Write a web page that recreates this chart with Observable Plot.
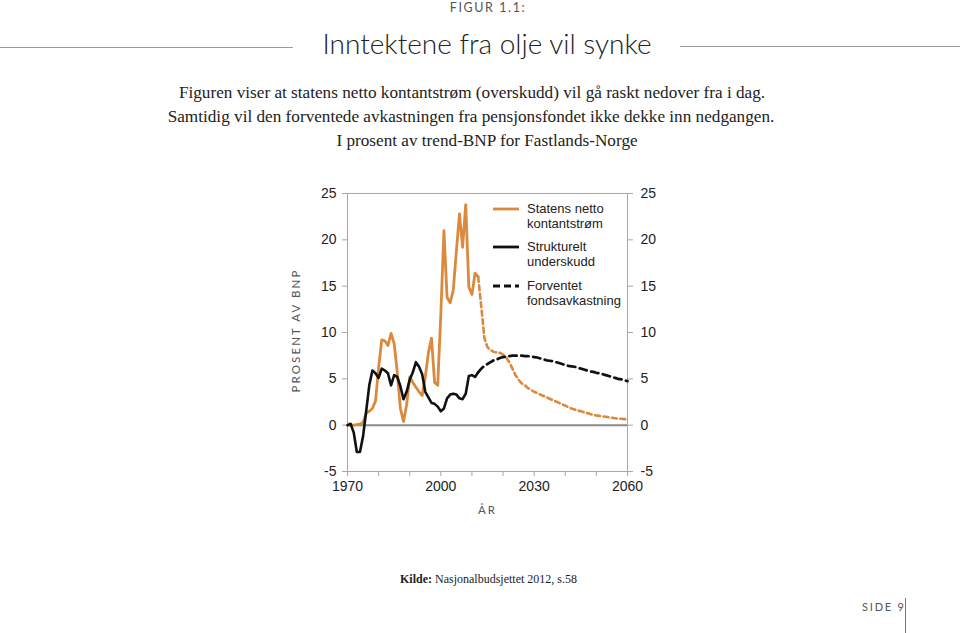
<!DOCTYPE html>
<html>
<head>
<meta charset="utf-8">
<script src="https://cdn.jsdelivr.net/npm/d3@7"></script>
<script src="https://cdn.jsdelivr.net/npm/@observablehq/plot@0.6"></script>
<style>
  html, body { margin: 0; padding: 0; background: #fff; }
  #page { position: relative; width: 960px; height: 633px; overflow: hidden; background: #fff; }
  .abs { position: absolute; white-space: nowrap; }
  .c { transform: translate(-50%, -50%); }
  #figur { font-family: Lato, sans-serif; font-size: 12.5px; letter-spacing: 1.6px; color: #555; }
  #title { font-family: Lato, sans-serif; font-weight: 300; font-size: 28px; color: #222; }
  .sub { font-family: "Liberation Serif", serif; font-size: 17.2px; color: #222; }
  .hline { position: absolute; height: 0; border-top: 1.5px solid #9a9a9a; }
  #kilde { font-family: "Liberation Serif", serif; font-size: 12px; color: #222; }
  #side { font-family: Lato, sans-serif; font-size: 11px; letter-spacing: 1.8px; color: #555; }
  #chart { position: absolute; left: 270px; top: 180px; }
  .leg { position: absolute; font-family: "Liberation Sans", Arial, sans-serif; font-size: 13px; line-height: 15px; color: #222; white-space: nowrap; }
</style>
</head>
<body>
<div id="page">
  <div class="abs c" id="figur" style="left:488px; top:7px;">FIGUR 1.1:</div>
  <div class="hline" style="left:0; width:293px; top:47px;"></div>
  <div class="abs c" id="title" style="left:487px; top:43px;">Inntektene fra olje vil synke</div>
  <div class="hline" style="left:680px; width:280px; top:46px;"></div>
  <div class="abs c sub" style="left:472px; top:93px;">Figuren viser at statens netto kontantstrøm (overskudd) vil gå raskt nedover fra i dag.</div>
  <div class="abs c sub" style="left:471px; top:117px;">Samtidig vil den forventede avkastningen fra pensjonsfondet ikke dekke inn nedgangen.</div>
  <div class="abs c sub" style="left:487px; top:141px;">I prosent av trend-BNP for Fastlands-Norge</div>
  <div id="chart"></div>
  <div id="legend"></div>
  <div class="abs" id="kilde" style="left:400px; top:572px;"><b>Kilde:</b> Nasjonalbudsjettet 2012, s.58</div>
  <div class="abs" id="side" style="left:862px; top:600px;">SIDE 9</div>
  <div style="position:absolute; left:905px; top:598px; width:0; height:35px; border-left:1.2px solid #777;"></div>
</div>
<script>
// ---- data ----
const histYears = d3.range(1970, 2013);   // 1970–2012
const projYears = d3.range(2012, 2061);   // 2012–2060

// Statens netto kontantstrøm (actual), % of trend-GDP mainland Norway
const nettoHist = [
  0, 0, 0, 0.05, 0.1, 0.3, 1.3, 1.5, 1.8, 2.6,
  6.2, 9.2, 9.1, 8.6, 9.9, 8.8, 5.7, 1.8, 0.4, 2.2,
  5.2, 4.6, 4.1, 3.6, 3.2, 5.2, 7.8, 9.4, 4.6, 4.3,
  12.0, 21.0, 13.8, 13.2, 14.6, 18.8, 22.8, 19.2, 23.8, 14.9,
  14.1, 16.4, 16.0
];
// Statens netto kontantstrøm (projection)
const nettoProj = [
  16.0, 12.8, 9.4, 8.4, 8.1, 7.9, 7.85, 7.8, 7.6, 7.3,
  6.8, 6.1, 5.4, 4.9, 4.5, 4.3, 4.0, 3.8, 3.6, 3.45,
  3.3, 3.15, 3.0, 2.85, 2.7, 2.55, 2.4, 2.25, 2.1, 1.95,
  1.8, 1.7, 1.6, 1.5, 1.4, 1.3, 1.2, 1.1, 1.05, 1.0,
  0.95, 0.9, 0.85, 0.8, 0.75, 0.7, 0.7, 0.65, 0.65
];
// Strukturelt underskudd
const strukturelt = [
  0.0, 0.15, -0.8, -2.9, -2.9, -1.2, 1.5, 4.3, 5.9, 5.6,
  5.1, 6.1, 5.9, 5.6, 4.3, 5.4, 5.2, 4.2, 2.8, 3.6,
  4.9, 5.7, 6.8, 6.3, 5.5, 3.6, 3.0, 2.4, 2.3, 2.0,
  1.5, 1.8, 2.9, 3.3, 3.4, 3.3, 2.9, 2.8, 3.4, 5.3,
  5.4, 5.2, 5.7
];
// Forventet fondsavkastning
const fondsavk = [
  5.7, 6.1, 6.4, 6.6, 6.8, 7.0, 7.1, 7.25, 7.35, 7.4,
  7.45, 7.5, 7.5, 7.5, 7.5, 7.45, 7.45, 7.4, 7.35, 7.3,
  7.2, 7.1, 7.0, 6.95, 6.9, 6.8, 6.7, 6.6, 6.5, 6.4,
  6.35, 6.3, 6.2, 6.1, 6.0, 5.9, 5.8, 5.75, 5.65, 5.6,
  5.5, 5.4, 5.3, 5.2, 5.1, 5.0, 4.95, 4.85, 4.75
];

const xTicks = [1970, 1980, 1990, 2000, 2010, 2020, 2030, 2040, 2050, 2060];
const xLabels = [1970, 2000, 2030, 2060];
const yTicks = [-5, 0, 5, 10, 15, 20, 25];

const legendItems = [
  {lines: ["Statens netto", "kontantstrøm"], color: "orange", dash: null},
  {lines: ["Strukturelt", "underskudd"], color: "black", dash: null},
  {lines: ["Forventet", "fondsavkastning"], color: "black", dash: "7,4"}
];

// ---- styling ----
const ORANGE = "#db8a3d";
const BLACK = "#111111";
const colorOf = {orange: ORANGE, black: BLACK};

const toRows = (years, vals) => years.map((year, i) => ({year, value: vals[i]}));

const chart = Plot.plot({
  width: 420,
  height: 350,
  marginLeft: 77,
  marginRight: 63,
  marginTop: 13,
  marginBottom: 59,
  x: {domain: [1970, 2060]},
  y: {domain: [-5, 25]},
  style: {fontFamily: "'Liberation Sans', Arial, sans-serif", fontSize: "14px", color: "#222", background: "transparent", overflow: "visible"},
  marks: [
    Plot.frame({stroke: "#a8a8a8", strokeWidth: 1}),
    Plot.ruleY([0], {stroke: "#8a8a8a", strokeWidth: 2}),
    Plot.axisY(yTicks, {anchor: "left", tickSize: 5, tickPadding: 6, stroke: "#a8a8a8", fill: "#222", label: null, tickFormat: d => String(d)}),
    Plot.axisY(yTicks, {anchor: "right", tickSize: 5, tickPadding: 8, stroke: "#a8a8a8", fill: "#222", label: null, tickFormat: d => String(d)}),
    Plot.axisX(xTicks, {anchor: "bottom", tickSize: 5, tickPadding: 5, stroke: "#a8a8a8", fill: "#222", label: null,
      tickFormat: d => xLabels.includes(d) ? String(d) : ""}),
    Plot.line(toRows(projYears, nettoProj), {x: "year", y: "value", stroke: ORANGE, strokeWidth: 2.6, strokeDasharray: "5,3.5"}),
    Plot.line(toRows(projYears, fondsavk), {x: "year", y: "value", stroke: BLACK, strokeWidth: 2.7, strokeDasharray: "7.5,4.5"}),
    Plot.line(toRows(histYears, nettoHist), {x: "year", y: "value", stroke: ORANGE, strokeWidth: 2.8, strokeLinejoin: "round"}),
    Plot.line(toRows(histYears, strukturelt), {x: "year", y: "value", stroke: BLACK, strokeWidth: 2.6, strokeLinejoin: "round"}),
    Plot.text(["PROSENT AV BNP"], {frameAnchor: "left", dx: -51, dy: -2, rotate: -90, textAnchor: "middle", fontFamily: "Lato, sans-serif", fontSize: 11.5, fill: "#555"}),
    Plot.text(["ÅR"], {frameAnchor: "bottom", dy: 42, textAnchor: "middle", fontFamily: "Lato, sans-serif", fontSize: 11.5, fill: "#555"})
  ]
});
// letter-spaced axis titles
d3.select(chart).selectAll("text")
  .filter(function () { return this.textContent === "PROSENT AV BNP" || this.textContent === "ÅR"; })
  .style("letter-spacing", "2.1px");
document.getElementById("chart").appendChild(chart);

// ---- legend (HTML overlay) ----
const legend = document.getElementById("legend");
const legY = [209, 247, 286];
legendItems.forEach((it, i) => {
  const y = legY[i];
  const svg = document.createElementNS("http://www.w3.org/2000/svg", "svg");
  svg.setAttribute("width", 28); svg.setAttribute("height", 6);
  svg.style.position = "absolute"; svg.style.left = "492px"; svg.style.top = (y - 3) + "px";
  const ln = document.createElementNS("http://www.w3.org/2000/svg", "line");
  ln.setAttribute("x1", 1); ln.setAttribute("x2", 27); ln.setAttribute("y1", 3); ln.setAttribute("y2", 3);
  ln.setAttribute("stroke", colorOf[it.color]); ln.setAttribute("stroke-width", 2.8);
  if (it.dash) ln.setAttribute("stroke-dasharray", it.dash);
  svg.appendChild(ln);
  legend.appendChild(svg);
  const div = document.createElement("div");
  div.className = "leg";
  div.style.left = "527px"; div.style.top = (y - 8) + "px";
  div.innerHTML = it.lines.join("<br>");
  legend.appendChild(div);
});
</script>
</body>
</html>
